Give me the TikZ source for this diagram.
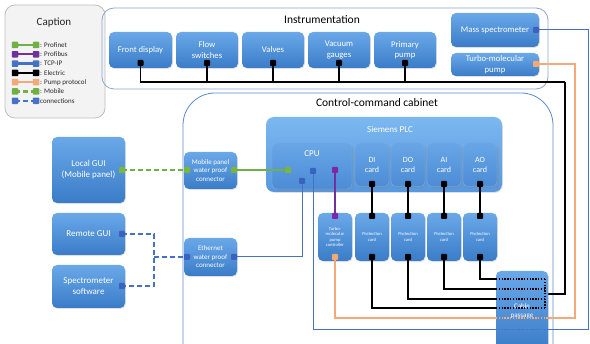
\documentclass[tikz,border=0pt]{standalone}
\usepackage{fontspec}
\setmainfont{Carlito}
\usetikzlibrary{shadows}
\definecolor{boxtop}{RGB}{106,168,232}
\definecolor{boxbot}{RGB}{58,124,200}
\definecolor{plctop}{RGB}{124,184,240}
\definecolor{plcbot}{RGB}{86,152,224}
\definecolor{subtop}{RGB}{104,166,230}
\definecolor{subbot}{RGB}{76,140,214}
\definecolor{capfill}{RGB}{243,243,243}
\definecolor{capdraw}{RGB}{190,190,190}
\definecolor{captext}{RGB}{40,40,40}
\definecolor{instdraw}{RGB}{140,165,200}
\definecolor{cabdraw}{RGB}{90,138,205}
\definecolor{cgreen}{RGB}{112,176,68}
\definecolor{cpurple}{RGB}{112,48,160}
\definecolor{cblue}{RGB}{68,114,196}
\definecolor{corange}{RGB}{244,170,120}
\definecolor{pgreen}{RGB}{122,182,62}
\definecolor{pblue}{RGB}{58,98,190}
\definecolor{porange}{RGB}{247,168,112}
\definecolor{ppurple}{RGB}{122,40,168}
\newcommand\legitem[5]{%
  \coordinate (#1a) at (15,#2);
  \coordinate (#1b) at (36,#2);
  \draw[#3,line width=2.4pt,#4] (#1a) -- (#1b);
  \node[port,fill=#3,minimum size=6.5pt] (#1as) at (#1a) {};
  \node[port,fill=#3,minimum size=6.5pt] (#1bs) at (#1b) {};
  \node[anchor=west,font=\fontsize{7}{8}\selectfont,text=captext,inner sep=0pt] (#1t) at (40,#2) {#5};}
\begin{document}
\begin{tikzpicture}[x=1pt,y=-1pt,
  box/.style={rounded corners=5pt, top color=boxtop, bottom color=boxbot, draw=none,
    text=white, align=center, inner sep=1pt, font=\fontsize{8.7}{10.5}\selectfont,
    drop shadow={opacity=.25,shadow xshift=.8pt,shadow yshift=-.8pt}},
  plcbox/.style={box, top color=plctop, bottom color=plcbot, rounded corners=8pt},
  subbox/.style={box, top color=subtop, bottom color=subbot, draw=boxbot!60, line width=.3pt, drop shadow={opacity=.15}},
  smallbox/.style={box, font=\fontsize{7}{8.5}\selectfont},
  tinybox/.style={box, font=\fontsize{4.6}{5.6}\selectfont},
  cardbox/.style={subbox, font=\fontsize{8}{10}\selectfont},
  port/.style={minimum size=6pt, inner sep=0pt, rounded corners=.8pt, draw=none},
  kline/.style={black, line width=1.4pt},
  bline/.style={cblue, line width=1pt},
  gline/.style={cgreen, line width=1.4pt},
  oline/.style={corange, line width=1.4pt},
  uline/.style={cpurple, line width=1.4pt},
  longdash/.style={dash pattern=on 5pt off 3pt},
  dots/.style={dash pattern=on 1.4pt off 1.4pt},
  title/.style={font=\fontsize{11.5}{13}\selectfont, text=black, inner sep=0pt}
  ]
\useasboundingbox (0,0) rectangle (590,344);
\fill[white] (0,0) rectangle (590,344);
\clip (0,0) rectangle (590,344);

% ---------- Caption ----------
\draw[rounded corners=10pt, fill=capfill, draw=capdraw, line width=.8pt] (5,5) rectangle (105,118);
\node[title, font=\fontsize{11}{13}\selectfont, text=captext] (captitle) at (54,23) {Caption};
\legitem{la}{45}{cgreen}{solid}{: Profinet}
\legitem{lb}{54.3}{cpurple}{solid}{: Profibus}
\legitem{lc}{63.6}{cblue}{solid}{: TCP-IP}
\legitem{ld}{72.9}{black}{solid}{: Electric}
\legitem{le}{82.2}{corange}{solid}{: Pump protocol}
\legitem{lf}{91.5}{cgreen}{longdash}{: Mobile}
\legitem{lg}{100.8}{cblue}{longdash}{connections}

% ---------- Containers ----------
\draw[rounded corners=12pt, draw=instdraw, line width=.8pt] (102,8) rectangle (548,89);
\node[title] (insttitle) at (322,20) {Instrumentation};
\draw[rounded corners=32pt, draw=cabdraw, line width=.8pt] (183,380) -- (183,93) -- (553,93) -- (553,380);
\node[title] (cabtitle) at (377,103) {Control-command cabinet};

% ---------- Instrumentation boxes ----------
\node[box, minimum width=63pt, minimum height=36pt] (fd) at (140.5,50) {Front display};
\node[box, minimum width=62pt, minimum height=36pt] (fs) at (207,50) {Flow\\switches};
\node[box, minimum width=62pt, minimum height=36pt] (va) at (273,50) {Valves};
\node[box, minimum width=62pt, minimum height=36pt] (vg) at (339,50) {Vacuum\\gauges};
\node[box, minimum width=62pt, minimum height=36pt] (pp) at (405,50) {Primary\\pump};
\node[box, minimum width=88pt, minimum height=34pt] (ms) at (495,30) {Mass spectrometer};
\node[box, minimum width=88pt, minimum height=23pt] (tp) at (495,64.5) {Turbo-molecular\\pump};

% ---------- Left side ----------
\node[box, minimum width=73pt, minimum height=66pt, font=\fontsize{9}{11}\selectfont] (lg) at (88.5,170) {Local GUI\\(Mobile panel)};
\node[box, minimum width=73pt, minimum height=42pt, font=\fontsize{9}{11}\selectfont] (rg) at (88.5,234) {Remote GUI};
\node[box, minimum width=73pt, minimum height=43pt, font=\fontsize{9}{11}\selectfont] (ss) at (88.5,286.5) {Spectrometer\\software};
\node[smallbox, minimum width=53pt, minimum height=37pt] (mc) at (210.5,170.5) {Mobile panel\\water proof\\connector};
\node[smallbox, minimum width=53pt, minimum height=38pt] (ec) at (210.5,257) {Ethernet\\water proof\\connector};

% ---------- PLC ----------
\node[plcbox, minimum width=236pt, minimum height=75pt] (plc) at (384,154.5) {};
\node[title, font=\fontsize{9}{11}\selectfont, text=white] (plct) at (390,129) {Siemens PLC};
\node[subbox, minimum width=80pt, minimum height=46pt] (cpu) at (312,166) {};
\node[title, font=\fontsize{9}{11}\selectfont, text=white] (cput) at (312,154) {CPU};
\node[cardbox, minimum width=34pt, minimum height=44pt] (di) at (372,164.5) {DI\\card};
\node[cardbox, minimum width=34pt, minimum height=44pt] (do) at (408,164.5) {DO\\card};
\node[cardbox, minimum width=34pt, minimum height=44pt] (ai) at (444,164.5) {AI\\card};
\node[cardbox, minimum width=34pt, minimum height=44pt] (ao) at (480,164.5) {AO\\card};

% ---------- Lower cards ----------
\node[tinybox, minimum width=34pt, minimum height=48pt] (tc) at (335,237) {Turbo-\\molecular\\pump\\controller};
\node[tinybox, minimum width=34pt, minimum height=48pt] (pc1) at (372,237) {Protection\\card};
\node[tinybox, minimum width=34pt, minimum height=48pt] (pc2) at (408,237) {Protection\\card};
\node[tinybox, minimum width=34pt, minimum height=48pt] (pc3) at (444,237) {Protection\\card};
\node[tinybox, minimum width=34pt, minimum height=48pt] (pc4) at (480,237) {Protection\\card};

% ---------- Port positions ----------
\foreach \n/\x in {fd/140.5,fs/207,va/273,vg/339,pp/405}{\coordinate (\n-p) at (\x,63);}
\coordinate (ms-p) at (536,30);
\coordinate (tp-p) at (536,64);
\coordinate (lg-p) at (122,170);
\coordinate (rg-p) at (122,234);
\coordinate (ss-p) at (122,286);
\coordinate (mc-l) at (187,170);
\coordinate (mc-r) at (234,170);
\coordinate (ec-l) at (187,257);
\coordinate (ec-r) at (234,257);
\coordinate (cpu-g) at (288,170);
\coordinate (cpu-b1) at (313,171);
\coordinate (cpu-b2) at (302,181);
\coordinate (cpu-u) at (335,170);
\foreach \n/\x in {di/372,do/408,ai/444,ao/480}{\coordinate (\n-p) at (\x,184);}
\coordinate (tc-t) at (335,216);
\coordinate (tc-b) at (335,257);
\foreach \i/\x in {1/372,2/408,3/444,4/480}{\coordinate (pc\i-t) at (\x,216); \coordinate (pc\i-b) at (\x,257);}

% bend / junction points
\coordinate (jn) at (154,257);
\coordinate (busR) at (565,82);
\coordinate (cp0) at (545,294);
\coordinate (cp1) at (545,308);
\coordinate (cp2) at (545,299);
\coordinate (cp3) at (545,289);
\coordinate (cp4) at (545,279);
\coordinate (ce1) at (496,308);
\coordinate (ce2) at (496,299);
\coordinate (ce3) at (496,289);
\coordinate (ce4) at (496,279);
\coordinate (orc) at (575,318);
\coordinate (oe1) at (496,318);
\coordinate (oe2) at (548,318);
\coordinate (blc) at (588,330);
\coordinate (be1) at (496,330);
\coordinate (be2) at (548,330);

% ---------- Connectors ----------
\draw[gline, longdash] (lg-p) -- (mc-l);
\draw[gline] (mc-r) -- (cpu-g);
\draw[bline, longdash, line width=1.4pt] (rg-p) -| (jn) |- (ss-p);
\draw[bline, longdash, line width=1.4pt] (jn) -- (ec-l);
\draw[bline] (ec-r) -| (cpu-b2);
\draw[bline] (ms-p) -| (blc) -| (cpu-b1);
\draw[oline] (tp-p) -| (orc) -| (tc-b);
\draw[uline] (cpu-u) -- (tc-t);
\draw[kline] (fd-p) |- (busR);
\foreach \n in {fs,va,vg,pp}{\draw[kline] (\n-p) -- (\n-p |- busR);}
\draw[kline] (busR) |- (cp0);
\draw[kline] (di-p) -- (pc1-t);
\draw[kline] (do-p) -- (pc2-t);
\draw[kline] (ai-p) -- (pc3-t);
\draw[kline] (ao-p) -- (pc4-t);
\draw[kline] (pc1-b) |- (cp1);
\draw[kline] (pc2-b) |- (cp2);
\draw[kline] (pc3-b) |- (cp3);
\draw[kline] (pc4-b) |- (cp4);

% ---------- Cable passage ----------
\node[box, minimum width=52pt, minimum height=80pt, font=\fontsize{7}{8.5}\selectfont] (cab) at (522,311) {Cable\\passage};
\draw[kline, dots] (ce1) -- (cp1);
\draw[kline, dots] (ce2) -- (cp2);
\draw[kline, dots] (ce3) -- (cp3);
\draw[kline, dots] (ce4) -- (cp4);
\draw[kline, dots] (cp4) -- (cp1);
\draw[oline, dots] (oe1) -- (oe2);
\draw[bline, dots] (be1) -- (be2);

% ---------- Ports ----------
\foreach \n in {fd,fs,va,vg,pp}{\node[port, fill=black] (\n-ps) at (\n-p) {};}
\node[port, fill=pblue] (ms-ps) at (ms-p) {};
\node[port, fill=porange] (tp-ps) at (tp-p) {};
\node[port, fill=pgreen] (lg-ps) at (lg-p) {};
\node[port, fill=pblue] (rg-ps) at (rg-p) {};
\node[port, fill=pblue] (ss-ps) at (ss-p) {};
\node[port, fill=pgreen] (mc-ls) at (mc-l) {};
\node[port, fill=pgreen] (mc-rs) at (mc-r) {};
\node[port, fill=pblue] (ec-ls) at (ec-l) {};
\node[port, fill=pblue] (ec-rs) at (ec-r) {};
\node[port, fill=pgreen] (cpu-gs) at (cpu-g) {};
\node[port, fill=pblue] (cpu-b1s) at (cpu-b1) {};
\node[port, fill=pblue] (cpu-b2s) at (cpu-b2) {};
\node[port, fill=ppurple] (cpu-us) at (cpu-u) {};
\foreach \n in {di,do,ai,ao}{\node[port, fill=black] (\n-ps) at (\n-p) {};}
\node[port, fill=ppurple] (tc-ts) at (tc-t) {};
\node[port, fill=porange] (tc-bs) at (tc-b) {};
\foreach \i in {1,2,3,4}{\node[port, fill=black] (pc\i-ts) at (pc\i-t) {}; \node[port, fill=black] (pc\i-bs) at (pc\i-b) {};}
\end{tikzpicture}
\end{document}
